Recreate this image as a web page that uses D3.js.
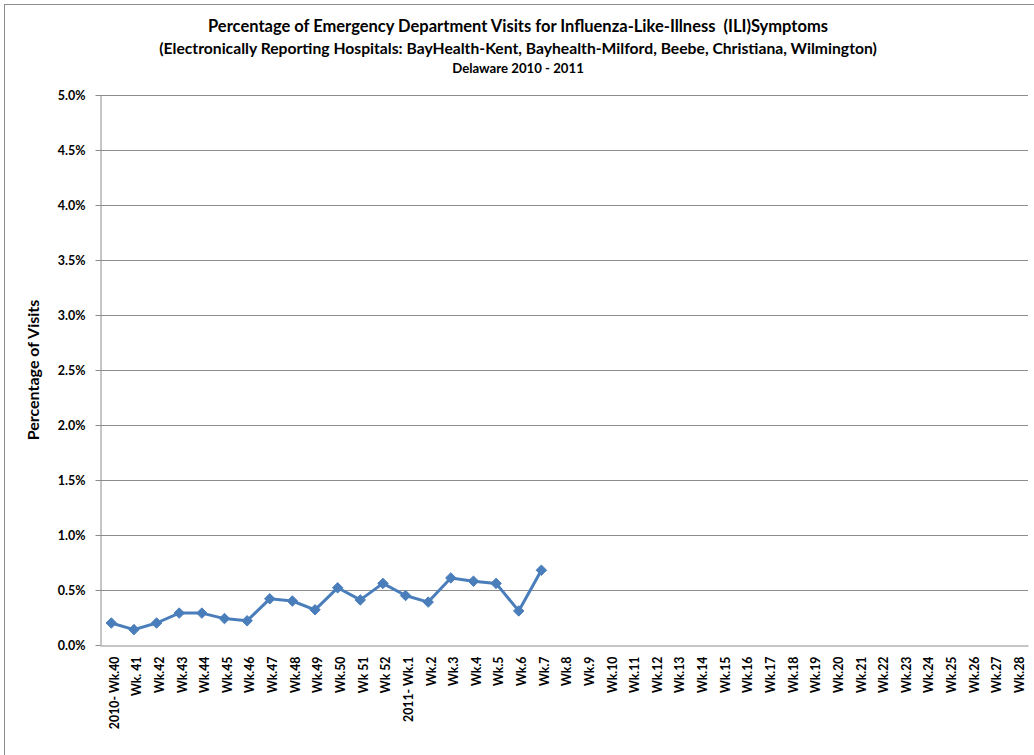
<!DOCTYPE html>
<html>
<head>
<meta charset="utf-8">
<script src="https://cdn.jsdelivr.net/npm/d3@7"></script>
<style>
html,body{margin:0;padding:0;background:#fff;}
svg{display:block;}
text{font-family:Lato,"Open Sans",sans-serif;font-weight:bold;fill:#000;white-space:pre;}
</style>
</head>
<body>
<svg id="chart" width="1034" height="755"></svg>
<script>
const weeks = ["2010- Wk.40","Wk. 41","Wk.42","Wk.43","Wk.44","Wk.45","Wk.46","Wk.47","Wk.48","Wk.49","Wk.50","Wk 51","Wk 52",
  "2011- Wk.1","Wk.2","Wk.3","Wk.4","Wk.5","Wk.6","Wk.7","Wk.8","Wk.9","Wk.10","Wk.11","Wk.12","Wk.13","Wk.14","Wk.15",
  "Wk.16","Wk.17","Wk.18","Wk.19","Wk.20","Wk.21","Wk.22","Wk.23","Wk.24","Wk.25","Wk.26","Wk.27","Wk.28"];
const iliPct = [0.20,0.14,0.20,0.29,0.29,0.24,0.22,0.42,0.40,0.32,0.52,0.41,0.56,0.45,0.39,0.61,0.58,0.56,0.31,0.68];
const yTicks = [0,0.5,1.0,1.5,2.0,2.5,3.0,3.5,4.0,4.5,5.0];
const titleLines = ["Percentage of Emergency Department Visits for Influenza-Like-Illness  (ILI)Symptoms",
  "(Electronically Reporting Hospitals: BayHealth-Kent, Bayhealth-Milford, Beebe, Christiana, Wilmington)",
  "Delaware 2010 - 2011"];
const yTitle = "Percentage of Visits";

const svg = d3.select("#chart");
const mLeft = 100, mRight = 1028, mTop = 95, mBottom = 645;
const lineColor = "#4a7ebb", gridColor = "#8c8c8c";

// outer border
svg.append("rect").attr("x",4.5).attr("y",4.5).attr("width",1100).attr("height",800)
  .attr("fill","none").attr("stroke","#8c8c8c").attr("stroke-width",1);

const x = d3.scaleBand().domain(weeks).range([mLeft,mRight]);
const y = d3.scaleLinear().domain([0,5]).range([mBottom,mTop]);

// gridlines
svg.append("g").selectAll("line").data(yTicks.filter(d=>d>0)).join("line")
  .attr("x1",mLeft).attr("x2",mRight)
  .attr("y1",d=>Math.round(y(d))+0.5).attr("y2",d=>Math.round(y(d))+0.5)
  .attr("stroke",gridColor).attr("stroke-width",1);

// y axis
const yAxis = svg.append("g").attr("transform",`translate(${mLeft+0.5},0)`)
  .call(d3.axisLeft(y).tickValues(yTicks).tickFormat(d=>d.toFixed(1)+"%").tickSize(5).tickPadding(10).tickSizeOuter(0));
yAxis.select(".domain").attr("stroke",gridColor);
yAxis.selectAll(".tick line").attr("stroke",gridColor);
yAxis.selectAll(".tick text").style("font-size","12.5px").style("font-family","Lato,sans-serif").style("font-weight","bold");

// x axis
const xAxis = svg.append("g").attr("transform",`translate(0,${mBottom+0.5})`)
  .call(d3.axisBottom(x).tickSize(0).tickSizeOuter(0).tickPadding(0));
xAxis.select(".domain").attr("stroke",gridColor);
xAxis.selectAll(".tick text")
  .style("font-size","12.3px").style("font-family","Lato,sans-serif").style("font-weight","bold")
  .attr("text-anchor","end").attr("dy","0.35em")
  .attr("transform","translate(3,11) rotate(-90)")
  .attr("y",0);

// line
const pts = iliPct.map((v,i)=>({w:weeks[i],v}));
const line = d3.line().x(d=>x(d.w)+x.bandwidth()/2).y(d=>y(d.v));
svg.append("path").datum(pts).attr("d",line)
  .attr("fill","none").attr("stroke",lineColor).attr("stroke-width",3).attr("stroke-linejoin","round");
svg.append("g").selectAll("path").data(pts).join("path")
  .attr("d",d3.symbol().type(d3.symbolDiamond2).size(70))
  .attr("transform",d=>`translate(${x(d.w)+x.bandwidth()/2},${y(d.v)})`)
  .attr("fill",lineColor).attr("stroke",lineColor).attr("stroke-width",1);

// titles
const cx = 518;
svg.append("text").attr("x",cx).attr("y",32).attr("text-anchor","middle").style("font-size","16.5px").text(titleLines[0]);
svg.append("text").attr("x",cx).attr("y",54).attr("text-anchor","middle").style("font-size","15.7px").text(titleLines[1]);
svg.append("text").attr("x",cx).attr("y",73).attr("text-anchor","middle").style("font-size","13.2px").text(titleLines[2]);

// y title
svg.append("text").attr("transform",`translate(39,${(mTop+mBottom)/2}) rotate(-90)`)
  .attr("text-anchor","middle").style("font-size","16px").text(yTitle);
</script>
</body>
</html>
